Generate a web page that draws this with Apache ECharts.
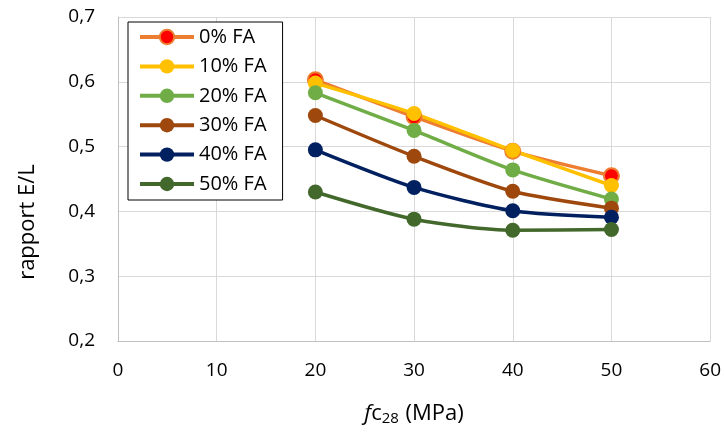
<!DOCTYPE html>
<html>
<head>
<meta charset="utf-8">
<script src="https://cdn.jsdelivr.net/npm/echarts@6/dist/echarts.min.js"></script>
<style>
  html, body { margin: 0; padding: 0; background: #fff; }
  #chart { width: 724px; height: 432px; }
</style>
</head>
<body>
<div id="chart"></div>
<script>
// Compressive strength at 28 days (MPa)
const strength = [20, 30, 40, 50];

// Water/binder ratio for each fly-ash replacement level
const fa0  = [0.603, 0.546, 0.493, 0.455];
const fa10 = [0.598, 0.551, 0.494, 0.440];
const fa20 = [0.583, 0.525, 0.464, 0.419];
const fa30 = [0.548, 0.485, 0.431, 0.405];
const fa40 = [0.495, 0.437, 0.401, 0.391];
const fa50 = [0.430, 0.388, 0.371, 0.372];

const seriesNames = ['0% FA', '10% FA', '20% FA', '30% FA', '40% FA', '50% FA'];
const seriesValues = [fa0, fa10, fa20, fa30, fa40, fa50];
const lineColors = ['#ED7D31', '#FFC000', '#70AD47', '#9E480E', '#002060', '#43682B'];
const markerColors = ['#FF0000', '#FFC000', '#70AD47', '#9E480E', '#002060', '#43682B'];

const FONT = 'Open Sans';

const chart = echarts.init(document.getElementById('chart'));

const series = seriesNames.map((name, i) => ({
  name,
  type: 'line',
  smooth: 0.25,
  symbol: 'circle',
  symbolSize: 15,
  lineStyle: { color: lineColors[i], width: 3.5 },
  itemStyle: {
    color: markerColors[i],
    borderColor: lineColors[i],
    borderWidth: i === 0 ? 2 : 0
  },
  data: strength.map((x, j) => [x, seriesValues[i][j]])
}));

chart.setOption({
  animation: false,
  backgroundColor: '#fff',
  grid: { left: 118, right: 13, top: 17, bottom: 91 },
  xAxis: {
    type: 'value',
    min: 0, max: 60, interval: 10,
    axisLine: { show: true, lineStyle: { color: '#BFBFBF', width: 1 } },
    axisTick: { show: false },
    splitLine: { show: true, lineStyle: { color: '#D9D9D9', width: 1 } },
    axisLabel: { color: '#000', fontFamily: FONT, fontSize: 19, margin: 20 },
    name: '{i|f}{n|c}{s|28}{n| (MPa)}',
    nameLocation: 'middle',
    nameGap: 60,
    nameTextStyle: {
      color: '#000',
      rich: {
        i: { fontFamily: FONT, fontSize: 22, fontStyle: 'italic', color: '#000' },
        n: { fontFamily: FONT, fontSize: 22, color: '#000' },
        s: { fontFamily: FONT, fontSize: 15, color: '#000', verticalAlign: 'bottom', padding: [10, 1, 0, 0] }
      }
    }
  },
  yAxis: {
    type: 'value',
    min: 0.2, max: 0.7, interval: 0.1,
    axisLine: { show: true, lineStyle: { color: '#BFBFBF', width: 1 } },
    axisTick: { show: false },
    splitLine: { show: true, lineStyle: { color: '#D9D9D9', width: 1 } },
    axisLabel: {
      color: '#000', fontFamily: FONT, fontSize: 19, margin: 23,
      formatter: v => v.toFixed(1).replace('.', ',')
    }
  },
  graphic: [{
    type: 'text',
    x: 28, y: 222,
    rotation: Math.PI / 2,
    style: {
      text: 'rapport E/L',
      fill: '#000',
      font: '22px "Open Sans"',
      textAlign: 'center',
      textVerticalAlign: 'middle'
    }
  }],
  legend: {
    data: seriesNames,
    orient: 'vertical',
    left: 128, top: 22,
    padding: [5, 16, 6, 10],
    itemWidth: 54, itemHeight: 18, itemGap: 9.4,
    backgroundColor: '#fff',
    borderColor: '#000', borderWidth: 1,
    lineStyle: { width: 4 },
    textStyle: { color: '#000', fontFamily: FONT, fontSize: 20, lineHeight: 20 }
  },
  series
});
</script>
</body>
</html>
